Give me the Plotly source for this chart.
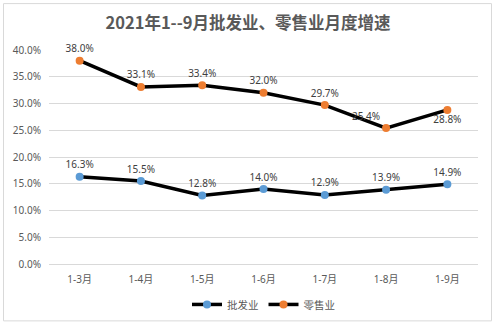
import plotly.graph_objects as go

categories = ["1-3月", "1-4月", "1-5月", "1-6月", "1-7月", "1-8月", "1-9月"]
wholesale = [16.3, 15.5, 12.8, 14.0, 12.9, 13.9, 14.9]
retail = [38.0, 33.1, 33.4, 32.0, 29.7, 25.4, 28.8]
series_names = ["批发业", "零售业"]
title_text = "2021年1--9月批发业、零售业月度增速"
y_ticks = [0, 5, 10, 15, 20, 25, 30, 35, 40]

FONT = "Noto Sans, Noto Sans CJK SC, sans-serif"

retail_pos = ["top center"] * 5 + ["top left", "bottom center"]

fig = go.Figure()
fig.add_trace(go.Scatter(
    x=categories, y=wholesale, name=series_names[0],
    mode="lines+markers+text", cliponaxis=False,
    line=dict(color="black", width=3.5),
    marker=dict(color="#5B9BD5", size=8),
    text=[f"{v:.1f}%" for v in wholesale],
    textposition="top center",
    textfont=dict(family=FONT, size=10, color="#404040"),
))
fig.add_trace(go.Scatter(
    x=categories, y=retail, name=series_names[1],
    mode="lines+markers+text", cliponaxis=False,
    line=dict(color="black", width=3.5),
    marker=dict(color="#ED7D31", size=8),
    text=[f"{v:.1f}%" for v in retail],
    textposition=retail_pos,
    textfont=dict(family=FONT, size=10, color="#404040"),
))

fig.update_layout(
    width=496, height=327,
    margin=dict(l=49, r=18, t=50, b=62.5, autoexpand=False),
    paper_bgcolor="white", plot_bgcolor="white",
    title=dict(text="<b>" + title_text + "</b>", x=0.5, xanchor="center",
               y=1 - 23 / 327, yanchor="middle",
               font=dict(family="Noto Sans CJK SC, sans-serif", size=16.5, color="#595959")),
    showlegend=True,
    legend=dict(orientation="h", x=0.5, xanchor="center", y=-0.189, yanchor="middle",
                font=dict(family="Noto Sans CJK SC, sans-serif", size=10.5, color="#595959"),
                itemwidth=30, bgcolor="rgba(0,0,0,0)"),
    shapes=[dict(type="rect", xref="paper", yref="paper",
                 x0=-0.106, x1=1.0315, y0=-0.2657, y1=1.2168,
                 line=dict(color="#D9D9D9", width=1), layer="below")],
)
fig.update_xaxes(type="category", range=[-0.5, 6.5], showgrid=False, showline=False,
                 zeroline=False, ticks="", ticklabelstandoff=8, automargin=False,
                 tickfont=dict(family=FONT, size=10, color="#595959"))
fig.update_yaxes(range=[0, 40], tickvals=y_ticks,
                 ticktext=[f"{v:.1f}%" for v in y_ticks],
                 showgrid=True, gridcolor="#D9D9D9", gridwidth=1,
                 zeroline=True, zerolinecolor="#D9D9D9", zerolinewidth=1,
                 showline=False, ticks="", ticklabelstandoff=7, automargin=False,
                 tickfont=dict(family=FONT, size=10, color="#595959"))

fig.write_html("out.html")
